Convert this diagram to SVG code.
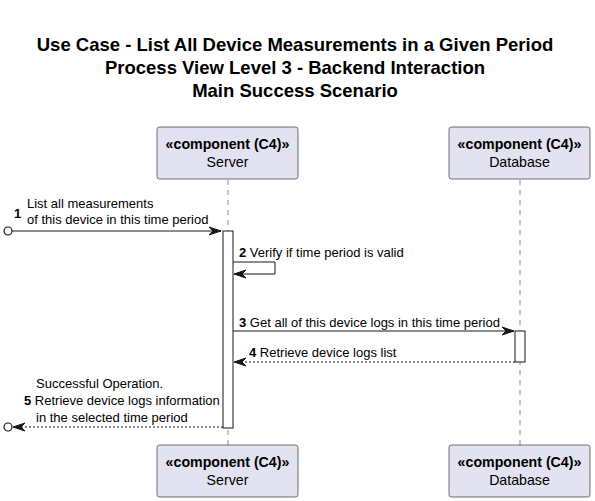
<svg xmlns="http://www.w3.org/2000/svg" width="595" height="501" viewBox="0 0 595 501">
<style>
.t{font-family:"Liberation Sans",Arial,sans-serif;font-weight:bold;font-size:18.5px;fill:#000;text-anchor:middle}
.box{fill:#E2E2F0;stroke:#181818;stroke-width:0.6}
.st{font-family:"Liberation Sans",Arial,sans-serif;font-weight:bold;font-size:14.2px;fill:#000;text-anchor:middle}
.nm{font-family:"Liberation Sans",Arial,sans-serif;font-size:14.2px;fill:#000;text-anchor:middle}
.life{stroke:#181818;stroke-width:0.5;stroke-dasharray:5,5;fill:none}
.act{fill:#fff;stroke:#181818;stroke-width:1}
.m{font-family:"Liberation Sans",Arial,sans-serif;font-size:13px;fill:#000}
.n{font-weight:bold}
.ln{stroke:#181818;stroke-width:1;fill:none}
.dl{stroke:#181818;stroke-width:1;fill:none;stroke-dasharray:2,2}
.ah{fill:#181818;stroke:#181818;stroke-width:1}
</style>
<rect width="595" height="501" fill="#fff"/>
<g id="title">
<text class="t" x="295" y="51">Use Case - List All Device Measurements in a Given Period</text>
<text class="t" x="295" y="74">Process View Level 3 - Backend Interaction</text>
<text class="t" x="295" y="97">Main Success Scenario</text>
</g>
<g id="lifelines">
<line class="life" x1="228" y1="180" x2="228" y2="445"/>
<line class="life" x1="520" y1="180" x2="520" y2="445"/>
</g>
<g id="server">
<rect class="box" x="157" y="127" width="141" height="52" rx="2.5"/>
<text class="st" x="227.5" y="149">«component (C4)»</text>
<text class="nm" x="227.5" y="167">Server</text>
</g>
<g id="database">
<rect class="box" x="449" y="127" width="141" height="52" rx="2.5"/>
<text class="st" x="519.5" y="149">«component (C4)»</text>
<text class="nm" x="519.5" y="167">Database</text>
</g>
<g id="server-bottom">
<rect class="box" x="157" y="445" width="141" height="52" rx="2.5"/>
<text class="st" x="227.5" y="467">«component (C4)»</text>
<text class="nm" x="227.5" y="485">Server</text>
</g>
<g id="database-bottom">
<rect class="box" x="449" y="445" width="141" height="52" rx="2.5"/>
<text class="st" x="519.5" y="467">«component (C4)»</text>
<text class="nm" x="519.5" y="485">Database</text>
</g>
<g id="activations">
<rect class="act" x="223" y="231" width="10" height="197"/>
<rect class="act" x="515" y="331" width="10" height="31"/>
</g>
<g id="connectors">
<circle cx="8" cy="231" r="4" fill="#fff" stroke="#181818" stroke-width="1.2"/>
<line class="ln" x1="12" y1="231" x2="221" y2="231"/>
<polygon class="ah" points="221,231 209,227 213,231 209,235"/>
<text class="m" x="14" y="218"><tspan class="n">1</tspan></text>
<text class="m" x="27" y="208">List all measurements</text>
<text class="m" x="27" y="224">of this device in this time period</text>

<polyline class="ln" points="233,262 275,262 275,274 234,274"/>
<polygon class="ah" points="234,274 246,270 242,274 246,278"/>
<text class="m" x="239" y="257"><tspan class="n">2</tspan> Verify if time period is valid</text>

<line class="ln" x1="233" y1="331" x2="514" y2="331"/>
<polygon class="ah" points="514,331 502,327 506,331 502,335"/>
<text class="m" x="239" y="327"><tspan class="n">3</tspan> Get all of this device logs in this time period</text>

<line class="dl" x1="515" y1="362" x2="235" y2="362"/>
<polygon class="ah" points="234,362 246,358 242,362 246,366"/>
<text class="m" x="249" y="357"><tspan class="n">4</tspan> Retrieve device logs list</text>

<line class="dl" x1="223" y1="427" x2="14" y2="427"/>
<polygon class="ah" points="13,427 25,423 21,427 25,431"/>
<circle cx="8" cy="427" r="4" fill="#fff" stroke="#181818" stroke-width="1.2"/>
<text class="m" x="36" y="388">Successful Operation.</text>
<text class="m" x="24" y="405"><tspan class="n">5</tspan> Retrieve device logs information</text>
<text class="m" x="36" y="422">in the selected time period</text>
</g>
</svg>
